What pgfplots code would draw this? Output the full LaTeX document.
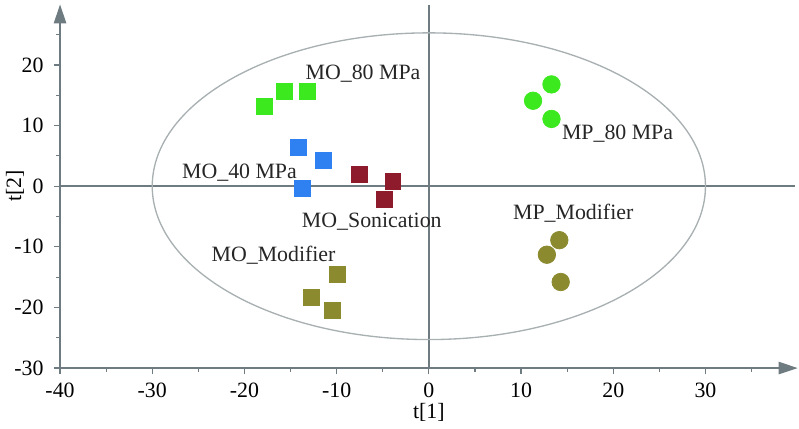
\documentclass[border=0pt]{standalone}
\usepackage{pgfplots}
\pgfplotsset{compat=1.18}
\usetikzlibrary{arrows.meta}
\usepackage{fontspec}
\setmainfont{Liberation Serif}
\definecolor{cgreen}{RGB}{60,232,30}
\definecolor{cblue}{RGB}{47,128,240}
\definecolor{cred}{RGB}{142,27,43}
\definecolor{colive}{RGB}{139,138,47}
\definecolor{caxis}{RGB}{110,123,128}
\definecolor{cell}{RGB}{168,176,178}
\begin{document}
\begin{tikzpicture}
\path[use as bounding box] (-31.6pt,-31.6pt) rectangle (388.9pt,193.7pt);
\begin{axis}[
  scale only axis,
  width=388.2pt, height=191.4pt,
  xmin=-40, xmax=40, ymin=-30, ymax=30,
  axis lines=left,
  axis line style={caxis, line width=0.7pt, -{Triangle[length=10pt,width=6.5pt]}},
  xtick={-40,-30,-20,-10,0,10,20,30},
  ytick={-30,-20,-10,0,10,20},
  minor xtick={-35,-25,-15,-5,5,15,25,35},
  minor ytick={-25,-15,-5,5,15,25},
  tick align=outside,
  major tick length=3.2pt,
  minor tick length=2pt,
  tick style={caxis, line width=0.6pt},
  /pgf/number format/assume math mode=true,
  ticklabel style={font=\fontsize{11.5}{13}\selectfont},
  xticklabel style={yshift=-1pt},
  yticklabel style={xshift=-2pt},
  xlabel={t[1]}, ylabel={t[2]},
  label style={font=\fontsize{11.5}{13}\selectfont},
  xlabel style={at={(axis description cs:0.5,-0.121)}, anchor=center},
  ylabel style={at={(axis description cs:-0.061,0.5)}, anchor=center, rotate=0},
  clip=false,
]
\addplot[caxis, line width=0.8pt] coordinates {(0,-30) (0,29.9)};
\addplot[caxis, line width=0.8pt] coordinates {(-40,0) (39.7,0)};
\draw[cell, line width=0.7pt] (axis cs:0,0) ellipse [x radius=30, y radius=25.3];
% MO_80 MPa
\addplot[only marks, mark=square*, mark size=4.2pt, color=cgreen] coordinates {(-17.8,13.2) (-15.7,15.7) (-13.2,15.7)};
% MO_40 MPa
\addplot[only marks, mark=square*, mark size=4.2pt, color=cblue] coordinates {(-14.2,6.4) (-11.4,4.2) (-13.7,-0.3)};
% MO_Sonication
\addplot[only marks, mark=square*, mark size=4.2pt, color=cred] coordinates {(-7.5,2.0) (-3.9,0.8) (-4.8,-2.2)};
% MO_Modifier
\addplot[only marks, mark=square*, mark size=4.2pt, color=colive] coordinates {(-9.9,-14.5) (-12.7,-18.3) (-10.5,-20.5)};
% MP_80 MPa
\addplot[only marks, mark=*, mark size=4.6pt, color=cgreen] coordinates {(13.3,16.8) (11.3,14.1) (13.3,11.1)};
% MP_Modifier
\addplot[only marks, mark=*, mark size=4.6pt, color=colive] coordinates {(14.15,-8.9) (12.8,-11.3) (14.3,-15.8)};
\begin{scope}[every node/.style={anchor=west, inner sep=0pt, font=\fontsize{11.5}{13}\selectfont, text=black!85}]
\node at (axis cs:-13.4,18.6) {MO\_80 MPa};
\node at (axis cs:14.4,8.7) {MP\_80 MPa};
\node at (axis cs:-26.8,2.3) {MO\_40 MPa};
\node at (axis cs:-13.8,-5.9) {MO\_Sonication};
\node at (axis cs:-23.6,-11.4) {MO\_Modifier};
\node at (axis cs:9.1,-4.5) {MP\_Modifier};
\end{scope}
\end{axis}
\end{tikzpicture}
\end{document}
